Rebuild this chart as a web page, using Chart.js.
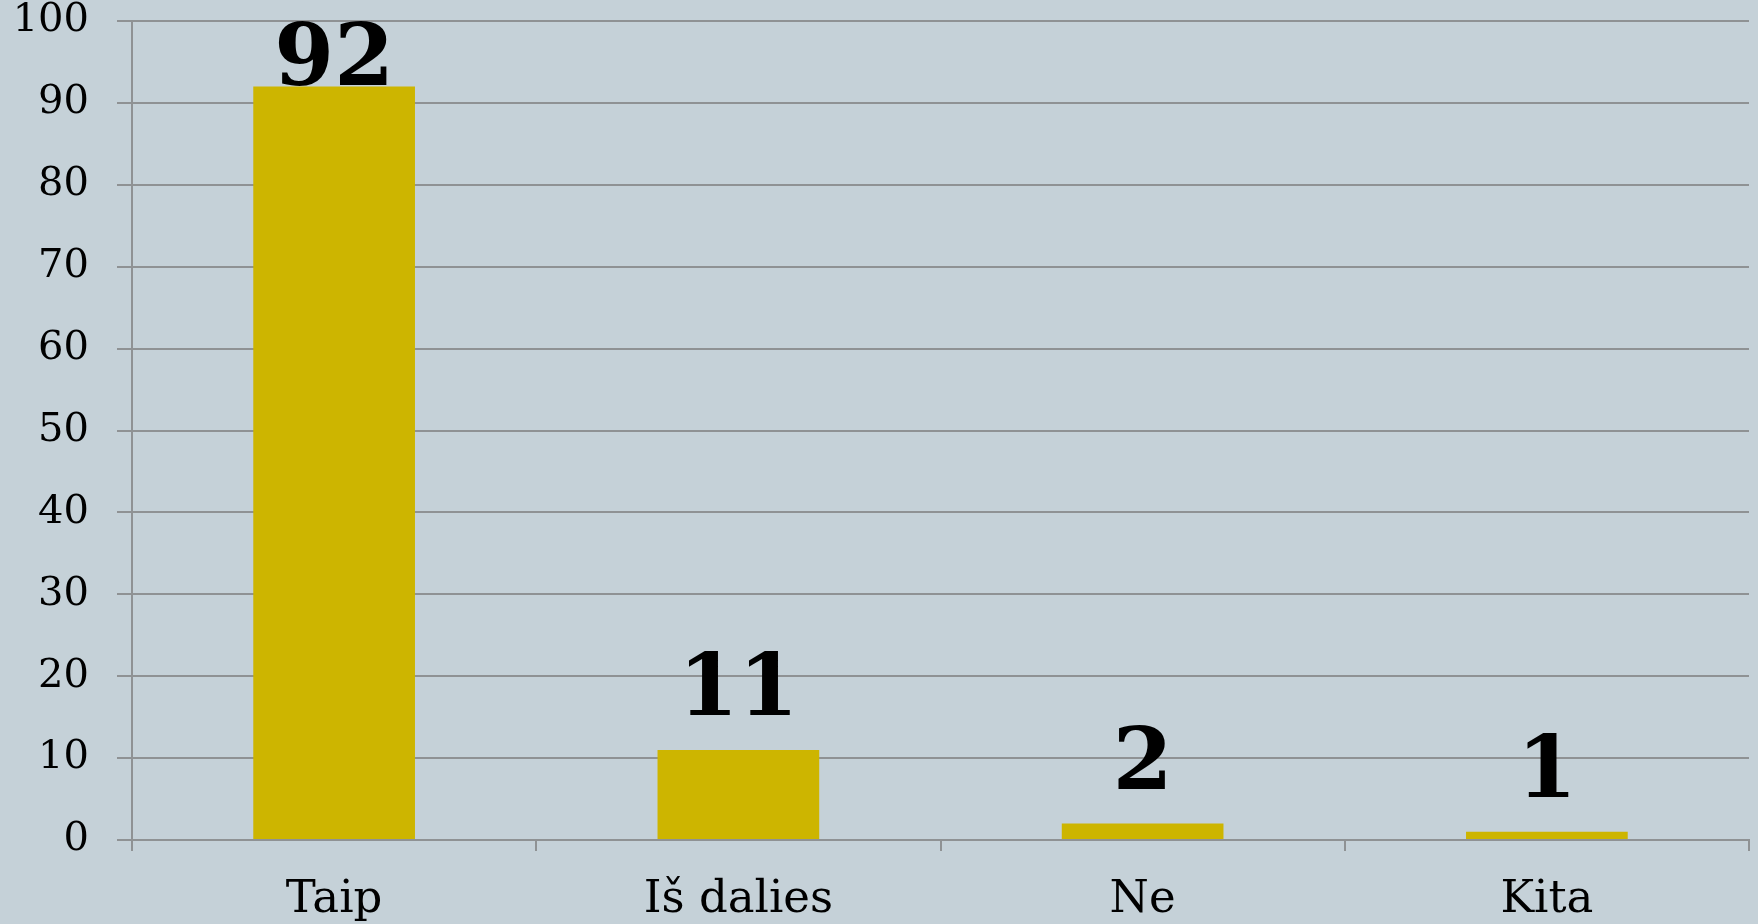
<!DOCTYPE html>
<html>
<head>
<meta charset="utf-8">
<script src="https://cdn.jsdelivr.net/npm/chart.js@4"></script>
<style>
  html, body { margin: 0; padding: 0; background: #c5d1d8; }
  #wrap { width: 1758px; height: 924px; }
</style>
</head>
<body>
<div id="wrap"><canvas id="chart" width="1758" height="924"></canvas></div>
<script>
// Values.
const categories = ["Taip", "Iš dalies", "Ne", "Kita"];
const counts = [92, 11, 2, 1];
const yTicks = [0, 10, 20, 30, 40, 50, 60, 70, 80, 90, 100];

const barColor = "#cdb500";
const gridColor = "#8f9294";
const serif = "'DejaVu Serif', Georgia, serif";

// Big bold value above each bar, kept inside the canvas for the tall bar.
const valueLabels = {
    id: "valueLabels",
    afterDatasetsDraw(chart) {
        const ctx = chart.ctx;
        const meta = chart.getDatasetMeta(0);
        const capH = 64;
        ctx.save();
        ctx.font = "bold 86px " + serif;
        ctx.fillStyle = "#000";
        ctx.textAlign = "center";
        ctx.textBaseline = "alphabetic";
        meta.data.forEach((bar, i) => {
            let y = bar.y - 35;
            y = Math.max(y, chart.chartArea.top + capH);
            ctx.fillText(String(counts[i]), bar.x, y);
        });
        ctx.restore();
    },
};

new Chart(document.getElementById("chart"), {
    type: "bar",
    data: {
        labels: categories,
        datasets: [{
            data: counts,
            backgroundColor: barColor,
            borderWidth: 0,
            categoryPercentage: 1,
            barPercentage: 0.4,
        }],
    },
    options: {
        responsive: false,
        animation: false,
        layout: { padding: { top: 21, right: 9, left: 0, bottom: 0 } },
        plugins: { legend: { display: false }, tooltip: { enabled: false } },
        scales: {
            x: {
                grid: { drawOnChartArea: false, drawTicks: true, tickLength: 11, color: gridColor, lineWidth: 2 },
                border: { color: gridColor, width: 2 },
                ticks: { color: "#000", font: { family: serif, size: 45 }, padding: 22 },
                afterFit(scale) {
                    scale.height = 84;
                    scale.paddingLeft = 0;
                    scale.paddingRight = 0;
                },
            },
            y: {
                min: 0,
                max: 100,
                afterBuildTicks(scale) { scale.ticks = yTicks.map(v => ({ value: v })); },
                grid: { color: gridColor, lineWidth: 2, tickLength: 15 },
                border: { color: gridColor, width: 2 },
                ticks: { color: "#000", font: { family: serif, size: 40 }, padding: 28 },
                afterFit(scale) {
                    scale.width = 132;
                    scale.paddingTop = 0;
                    scale.paddingBottom = 0;
                },
            },
        },
    },
    plugins: [valueLabels],
});
</script>
</body>
</html>
